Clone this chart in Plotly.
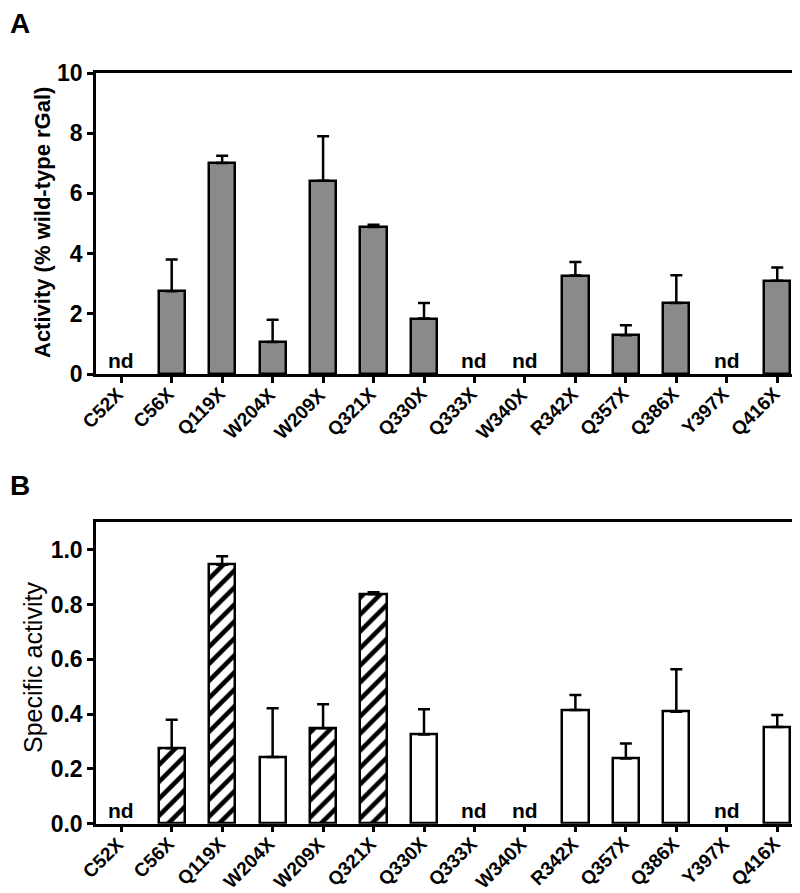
import plotly.graph_objects as go

categories = ["C52X", "C56X", "Q119X", "W204X", "W209X", "Q321X", "Q330X",
              "Q333X", "W340X", "R342X", "Q357X", "Q386X", "Y397X", "Q416X"]

activity = [None, 2.75, 7.01, 1.06, 6.42, 4.88, 1.84, None, None, 3.27, 1.29, 2.36, None, 3.10]
activity_err = [None, 1.05, 0.24, 0.74, 1.48, 0.08, 0.52, None, None, 0.45, 0.33, 0.92, None, 0.44]

specific = [None, 0.275, 0.945, 0.243, 0.348, 0.837, 0.326, None, None, 0.415, 0.238, 0.409, None, 0.353]
specific_err = [None, 0.104, 0.031, 0.178, 0.088, 0.008, 0.092, None, None, 0.055, 0.055, 0.155, None, 0.044]
hatched = [False, True, True, False, True, True, False, False, False, False, False, False, False, False]

yticks_a = [0, 2, 4, 6, 8, 10]
yticks_b = [0.0, 0.2, 0.4, 0.6, 0.8, 1.0]

FONT = "Liberation Sans, Arial, sans-serif"
W, H = 800, 893

def fx(px):
    return px / W

def fy(py):
    return 1 - py / H

fig = go.Figure()

fig.add_trace(go.Bar(
    x=categories, y=activity, width=0.52,
    marker=dict(color="#8a8a8a", line=dict(color="black", width=2.5)),
    error_y=dict(type="data", symmetric=False, array=activity_err,
                 arrayminus=[0 if v is not None else None for v in activity_err],
                 color="black", thickness=2.5, width=6),
    xaxis="x", yaxis="y", showlegend=False,
))

fig.add_trace(go.Bar(
    x=categories, y=specific, width=0.52,
    marker=dict(color="white", line=dict(color="black", width=2.5),
                pattern=dict(shape=["/" if h else "" for h in hatched],
                             fillmode="overlay", fgcolor="black", bgcolor="white",
                             fgopacity=1, size=12, solidity=0.38)),
    error_y=dict(type="data", symmetric=False, array=specific_err,
                 arrayminus=[0 if v is not None else None for v in specific_err],
                 color="black", thickness=2.5, width=6),
    xaxis="x2", yaxis="y2", showlegend=False,
))

axis_common = dict(showline=True, linecolor="black", linewidth=2.5, mirror=True,
                   ticks="outside", ticklen=6, tickwidth=2.5, tickcolor="black",
                   showgrid=False, zeroline=False, automargin=False)

xcommon = dict(axis_common, type="category", range=[-0.5, 13.55], showticklabels=False)
ytickfont = dict(family=FONT, size=23, color="black", weight="bold")

fig.update_layout(
    width=W, height=H,
    margin=dict(l=0, r=0, t=0, b=0),
    paper_bgcolor="white", plot_bgcolor="white",
    template="none",
    bargap=0,
    xaxis=dict(xcommon, domain=[fx(88), fx(797)], anchor="y"),
    yaxis=dict(axis_common, domain=[fy(366), fy(65)], anchor="x", range=[0, 10],
               tickvals=yticks_a, ticktext=[str(v) for v in yticks_a], tickfont=ytickfont),
    xaxis2=dict(xcommon, domain=[fx(88), fx(797)], anchor="y2"),
    yaxis2=dict(axis_common, domain=[fy(815.7), fy(514.3)], anchor="x2", range=[0, 1.1],
                tickvals=yticks_b, ticktext=[f"{v:.1f}" for v in yticks_b], tickfont=ytickfont),
)

annotations = []
for xr, yr, vals in (("x", "y", activity), ("x2", "y2", specific)):
    for cat, v in zip(categories, vals):
        # rotated category label below each tick
        annotations.append(dict(x=cat, y=0, xref=xr, yref=yr, text=cat, showarrow=False,
                                textangle=-45, xanchor="right", yanchor="top",
                                xshift=8, yshift=-8, borderpad=0,
                                font=dict(family=FONT, size=19, color="black", weight="bold")))
        if v is None:
            annotations.append(dict(x=cat, y=0, xref=xr, yref=yr, text="nd", showarrow=False,
                                    yanchor="bottom", yshift=0,
                                    font=dict(family=FONT, size=21, color="black", weight="bold")))

annotations += [
    dict(x=fx(35), y=fy(215), xref="paper", yref="paper", text="Activity (% wild-type rGal)",
         textangle=-90, showarrow=False, xanchor="center", yanchor="middle",
         font=dict(family=FONT, size=22, color="black", weight="bold")),
    dict(x=fx(25), y=fy(660), xref="paper", yref="paper", text="Specific activity",
         textangle=-90, showarrow=False, xanchor="center", yanchor="middle",
         font=dict(family=FONT, size=25, color="black")),
    dict(x=0, y=fy(16), xref="paper", yref="paper", text="A", showarrow=False,
         xanchor="left", yanchor="middle",
         font=dict(family=FONT, size=28, color="black", weight="bold")),
    dict(x=0, y=fy(477), xref="paper", yref="paper", text="B", showarrow=False,
         xanchor="left", yanchor="middle",
         font=dict(family=FONT, size=28, color="black", weight="bold")),
]
fig.update_layout(annotations=annotations)

fig.write_html("out.html")
